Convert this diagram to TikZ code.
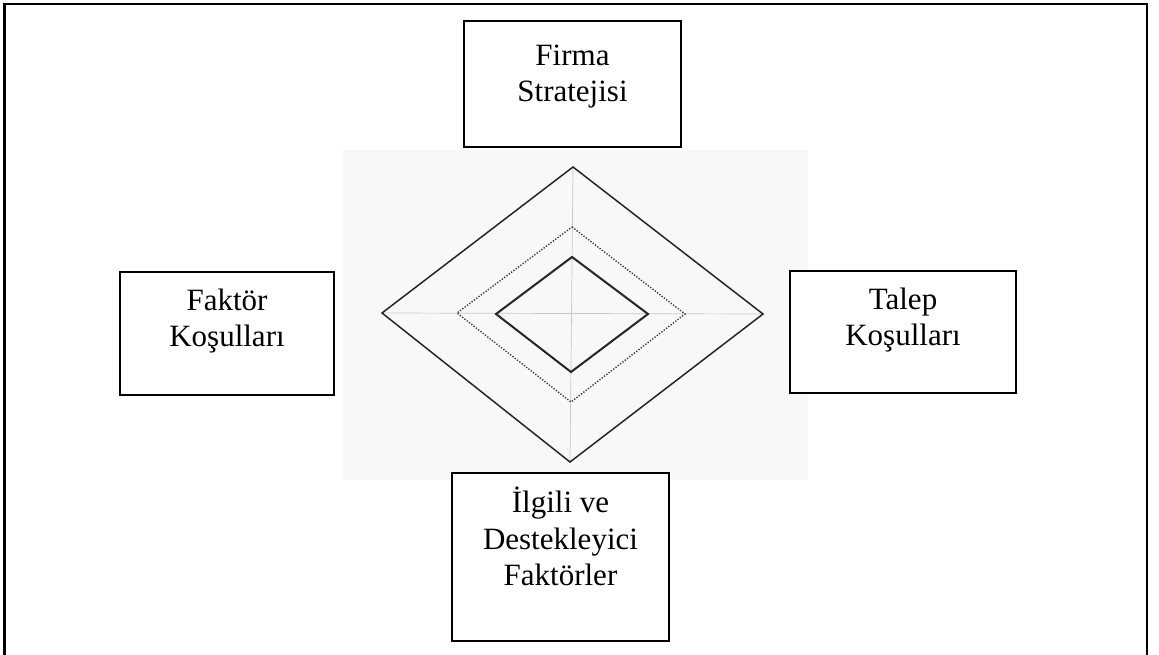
\documentclass[tikz,border=0pt]{standalone}
\usepackage{fontspec}
\setmainfont{Liberation Serif}
\usetikzlibrary{calc}

\definecolor{panelgrey}{HTML}{F8F8F8}
\definecolor{axisgrey}{HTML}{C8C8C8}
\definecolor{rimblack}{HTML}{262626}
\definecolor{dotgrey}{HTML}{3A3A3A}

\tikzset{
  factorbox/.style={draw=black, line width=1.8pt, fill=white, inner sep=0pt},
  boxtext/.style={anchor=north, align=center, inner sep=0pt,
    font=\fontsize{31}{36.5}\selectfont},
  frameline/.style={line width=2.7pt, draw=black},
  axisline/.style={draw=axisgrey, line width=0.7pt},
  outerrim/.style={draw=rimblack, line width=1.5pt, line join=miter},
  midrim/.style={draw=dotgrey, line width=1.4pt, dash pattern=on 1.3pt off 1.6pt},
  innerrim/.style={draw=rimblack, line width=2pt, line join=miter},
}

\newcommand{\firstline}{\rule{0pt}{25pt}}

\begin{document}
\begin{tikzpicture}[x=1pt, y=-1pt]
  \useasboundingbox (0,0) rectangle (1159,655);

  % outer frame (open at the bottom)
  \draw[frameline] (4.5,660) -- (4.5,4) -- (1147,4) -- (1147,660);

  % panel behind the diamond
  \fill[panelgrey] (343,150) rectangle (808,480);

  % diamond vertices
  \coordinate (oT) at (573,167);
  \coordinate (oR) at (763,314);
  \coordinate (oB) at (570,462);
  \coordinate (oL) at (382,313);
  \coordinate (mT) at (572,227);
  \coordinate (mR) at (685,314);
  \coordinate (mB) at (571,402);
  \coordinate (mL) at (457,313);
  \coordinate (iT) at (572,257);
  \coordinate (iR) at (648,314);
  \coordinate (iB) at (571,372);
  \coordinate (iL) at (496,314);

  % axes through the diamond
  \draw[axisline] (oT) -- (oB);
  \draw[axisline] (oL) -- (oR);

  % the three nested rims
  \draw[outerrim] (oT) -- (oR) -- (oB) -- (oL) -- cycle;
  \draw[midrim]   (mT) -- (mR) -- (mB) -- (mL) -- cycle;
  \draw[innerrim] (iT) -- (iR) -- (iB) -- (iL) -- cycle;

  % the four factor boxes
  \node[factorbox, minimum width=217pt, minimum height=126pt] (firm) at (572.5,84) {};
  \node[boxtext, yshift=-20pt] (firmtext) at (firm.north)
    {\firstline Firma\\Stratejisi};

  \node[factorbox, minimum width=214pt, minimum height=123pt] (factor) at (227,333.5) {};
  \node[boxtext, yshift=-14pt] (factortext) at (factor.north)
    {\firstline Faktör\\Koşulları};

  \node[factorbox, minimum width=226pt, minimum height=122pt] (demand) at (903,332) {};
  \node[boxtext, yshift=-14pt] (demandtext) at (demand.north)
    {\firstline Talep\\Koşulları};

  \node[factorbox, minimum width=217pt, minimum height=168pt] (related) at (560.5,557) {};
  \node[boxtext, yshift=-15pt] (relatedtext) at (related.north)
    {\firstline İlgili ve\\Destekleyici\\Faktörler};
\end{tikzpicture}
\end{document}
